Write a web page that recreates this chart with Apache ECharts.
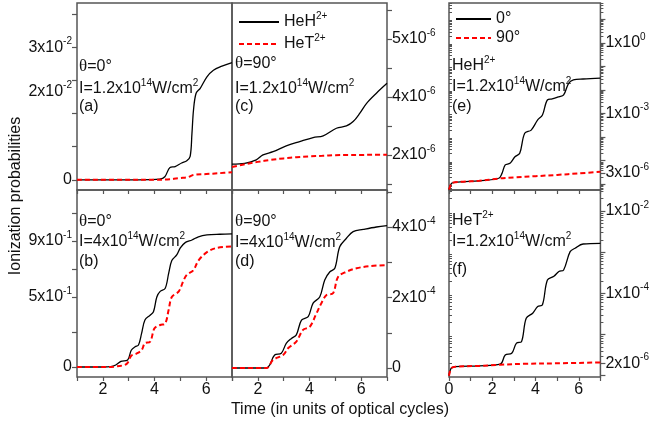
<!DOCTYPE html>
<html>
<head>
<meta charset="utf-8">
<script src="https://cdn.jsdelivr.net/npm/echarts@6/dist/echarts.min.js"></script>
<style>
  html, body { margin: 0; padding: 0; background: #fff; }
  #chart { width: 652px; height: 425px; }
</style>
</head>
<body>
<div id="chart"></div>
<script>
// ---- data (time in optical cycles, ionization probability) ----
// (a) theta=0, I=1.2e14
var tA_H = [1, 2, 3, 3.8, 4.2, 4.4, 4.6, 4.8, 5.05, 5.25, 5.38, 5.45, 5.51, 5.61, 5.77, 6.03, 6.28, 6.61, 7];
var pA_H = [0, 0, 0, 0.00005, 0.00015, 0.0007, 0.0028, 0.0030, 0.0038, 0.0043, 0.0053, 0.0105, 0.0158, 0.0196, 0.0207, 0.0233, 0.0248, 0.0257, 0.0265];
var tA_T = [1, 3, 4, 4.5, 5, 5.3, 5.5, 6, 6.5, 7];
var pA_T = [0, 0, 0, 0.0001, 0.0004, 0.0006, 0.0011, 0.0013, 0.0015, 0.0017];

// (b) theta=0, I=4e14
var tB_H = [1, 2, 2.3, 2.5, 2.7, 2.96, 3.1, 3.25, 3.38, 3.5, 3.63, 3.83, 3.96, 4.09, 4.22, 4.41, 4.55, 4.67, 4.86, 5.0, 5.2, 5.45, 5.7, 6.03, 6.53, 7];
var pB_H = [0, 0, 0.002, 0.014, 0.04, 0.05, 0.12, 0.145, 0.157, 0.24, 0.336, 0.37, 0.395, 0.5, 0.54, 0.56, 0.67, 0.76, 0.8, 0.85, 0.89, 0.907, 0.93, 0.943, 0.948, 0.95];
var tB_T = [1, 2.1, 2.45, 2.83, 2.96, 3.1, 3.3, 3.5, 3.63, 3.83, 4.0, 4.22, 4.41, 4.55, 4.67, 4.94, 5.13, 5.26, 5.5, 5.7, 6.03, 6.4, 7];
var pB_T = [0, 0, 0.003, 0.014, 0.03, 0.08, 0.095, 0.12, 0.17, 0.18, 0.276, 0.3, 0.31, 0.41, 0.5, 0.54, 0.62, 0.66, 0.69, 0.76, 0.82, 0.85, 0.86];

// (c) theta=90, I=1.2e14
var tC_H = [1, 1.49, 1.94, 2.2, 2.59, 3.1, 3.62, 4.14, 4.53, 5.04, 5.43, 5.69, 5.95, 6.21, 6.59, 7];
var pC_H = [1.68e-6, 1.71e-6, 1.83e-6, 2.0e-6, 2.11e-6, 2.31e-6, 2.46e-6, 2.6e-6, 2.66e-6, 2.92e-6, 3.0e-6, 3.15e-6, 3.44e-6, 3.78e-6, 4.13e-6, 4.47e-6];
var tC_T = [1, 1.5, 2, 2.5, 3, 3.5, 4, 4.5, 5, 5.5, 6, 6.5, 7];
var pC_T = [1.58e-6, 1.68e-6, 1.76e-6, 1.83e-6, 1.88e-6, 1.92e-6, 1.95e-6, 1.97e-6, 1.99e-6, 2.0e-6, 2.0e-6, 2.01e-6, 2.01e-6];

// (d) theta=90, I=4e14
var tD_H = [1, 2.33, 2.46, 2.65, 2.91, 3.1, 3.3, 3.49, 3.69, 3.95, 4.14, 4.4, 4.59, 4.79, 4.98, 5.17, 5.43, 5.69, 6.08, 6.59, 7];
var pD_H = [0, 0, 0.085e-4, 0.37e-4, 0.42e-4, 0.7e-4, 0.84e-4, 0.94e-4, 1.36e-4, 1.46e-4, 1.84e-4, 2.02e-4, 2.5e-4, 2.73e-4, 2.83e-4, 3.44e-4, 3.68e-4, 3.87e-4, 3.93e-4, 4.0e-4, 4.04e-4];
var tD_T = [1, 2.33, 2.59, 2.98, 3.17, 3.49, 3.75, 4.01, 4.27, 4.46, 4.66, 4.91, 5.11, 5.43, 5.82, 6.34, 7];
var pD_T = [0, 0, 0.23e-4, 0.37e-4, 0.56e-4, 0.75e-4, 1.08e-4, 1.17e-4, 1.55e-4, 1.84e-4, 2.07e-4, 2.12e-4, 2.59e-4, 2.73e-4, 2.83e-4, 2.89e-4, 2.92e-4];

// (e) HeH2+, 0 and 90 deg, log scale
var tE_0 = [0, 0.05, 0.12, 0.3, 0.65, 1.4, 2.3, 2.45, 2.6, 2.82, 3.05, 3.27, 3.5, 3.8, 4.1, 4.32, 4.55, 4.77, 5.08, 5.3, 5.53, 5.75, 6.2, 7];
var pE_0 = [6e-7, 8e-7, 1.1e-6, 1.22e-6, 1.28e-6, 1.4e-6, 1.8e-6, 2.9e-6, 6.6e-6, 7.8e-6, 1.48e-5, 2.06e-5, 1.46e-4, 2.0e-4, 5.4e-4, 8.7e-4, 3.8e-3, 4.2e-3, 5.2e-3, 6.2e-3, 1.94e-2, 2.7e-2, 2.95e-2, 3.2e-2];
var tE_90 = [0, 0.05, 0.12, 0.3, 0.65, 1.4, 2.3, 3, 4, 5, 6, 7];
var pE_90 = [6e-7, 8e-7, 1.1e-6, 1.22e-6, 1.28e-6, 1.4e-6, 1.75e-6, 1.95e-6, 2.2e-6, 2.5e-6, 2.9e-6, 3.4e-6];

// (f) HeT2+, 0 and 90 deg, log scale
var tF_0 = [0, 0.05, 0.12, 0.3, 1.4, 2.37, 2.6, 2.9, 3.12, 3.35, 3.57, 3.87, 4.1, 4.32, 4.55, 4.85, 5.08, 5.3, 5.6, 5.83, 6.2, 7];
var pF_0 = [1e-6, 1.3e-6, 1.55e-6, 1.66e-6, 1.73e-6, 1.9e-6, 3.2e-6, 3.5e-6, 6.2e-6, 6.7e-6, 2.5e-5, 3.3e-5, 4.8e-5, 5.3e-5, 2.1e-4, 2.6e-4, 3.4e-4, 3.7e-4, 1.03e-3, 1.25e-3, 1.58e-3, 1.64e-3];
var tF_90 = [0, 0.05, 0.12, 0.3, 1.4, 2.37, 3.5, 5, 7];
var pF_90 = [1e-6, 1.3e-6, 1.55e-6, 1.66e-6, 1.73e-6, 1.85e-6, 1.95e-6, 2.0e-6, 2.1e-6];

// ---- tick labels ----
var yLabA = [0, 0.02, 0.03],       yTxtA = ['0', '2x10^{-2}', '3x10^{-2}'];
var yLabB = [0, 0.5, 0.9],         yTxtB = ['0', '5x10^{-1}', '9x10^{-1}'];
var yLabC = [2e-6, 4e-6, 6e-6],    yTxtC = ['2x10^{-6}', '4x10^{-6}', '5x10^{-6}'];
var yLabD = [0, 2e-4, 4e-4],       yTxtD = ['0', '2x10^{-4}', '4x10^{-4}'];
var yLabE = [3e-6, 1e-3, 1],       yTxtE = ['3x10^{-6}', '1x10^{-3}', '1x10^{0}'];
var yLabF = [2e-6, 1e-4, 1e-2],    yTxtF = ['2x10^{-6}', '1x10^{-4}', '1x10^{-2}'];

var yTickA = [0, 0.0075, 0.015, 0.0225, 0.03, 0.0375];
var yTickB = [0, 0.25, 0.5, 0.7, 0.9, 1.1];
var yTickC = [1e-6, 2e-6, 3e-6, 4e-6, 5e-6, 6e-6, 7e-6];
var yTickD = [0, 1e-4, 2e-4, 3e-4, 4e-4, 5e-4];
var yTickE = [1e-6, 3e-6, 1e-5, 1e-4, 1e-3, 1e-2, 1e-1, 1, 10];
var yTickF = [1e-6, 2e-6, 1e-5, 1e-4, 1e-3, 1e-2];

var FONT = '"Liberation Sans", Arial, Helvetica, sans-serif';
var INK = '#111';
var FRAME = '#555';

var RICH = {
    n: { fontSize: 16, fontFamily: FONT, color: INK, fill: INK, lineHeight: 22, verticalAlign: 'middle' },
    s: { fontSize: 10, fontFamily: FONT, color: INK, fill: INK, lineHeight: 10, verticalAlign: 'top' },
    g: { fontSize: 17, fontFamily: '"Liberation Serif", serif', color: INK, fill: INK, lineHeight: 22, verticalAlign: 'middle' }
};

// '2x10^{-2}' -> rich text with superscripts, theta in serif
function rt(s) {
    var out = '{n|' + s.replace(/\^\{([^}]*)\}/g, '}{s|$1}{n|').replace(/θ/g, '}{g|θ}{n|') + '}';
    return out.replace(/\{n\|\}/g, '');
}

function minorLog(lo, hi) {
    var arr = [];
    for (var e = lo; e <= hi; e++) {
        for (var k = 2; k <= 9; k++) arr.push(k * Math.pow(10, e));
    }
    return arr;
}

function zip(t, v) {
    return t.map(function (x, i) { return [x, v[i]]; });
}

var panels = [
    { left: 77,  top: 3,   xmin: 1, xmax: 7, side: 'left',  type: 'value', ymin: -0.0023,  ymax: 0.04,    lab: yLabA, txt: yTxtA, ticks: yTickA, xlab: false,
      black: zip(tA_H, pA_H), red: zip(tA_T, pA_T), names: ['HeH2+', 'HeT2+'] },
    { left: 77,  top: 190, xmin: 1, xmax: 7, side: 'left',  type: 'value', ymin: -0.0714,  ymax: 1.264,   lab: yLabB, txt: yTxtB, ticks: yTickB, xlab: true,
      black: zip(tB_H, pB_H), red: zip(tB_T, pB_T), names: ['HeH2+', 'HeT2+'] },
    { left: 232, top: 3,   xmin: 1, xmax: 7, side: 'right', type: 'value', ymin: 0.79e-6,  ymax: 7.24e-6, lab: yLabC, txt: yTxtC, ticks: yTickC, xlab: false,
      black: zip(tC_H, pC_H), red: zip(tC_T, pC_T), names: ['HeH2+', 'HeT2+'] },
    { left: 232, top: 190, xmin: 1, xmax: 7, side: 'right', type: 'value', ymin: -0.255e-4, ymax: 5.05e-4, lab: yLabD, txt: yTxtD, ticks: yTickD, xlab: true,
      black: zip(tD_H, pD_H), red: zip(tD_T, pD_T), names: ['HeH2+', 'HeT2+'] },
    { left: 449, top: 3,   xmin: 0, xmax: 7, side: 'right', type: 'log',   ymin: 5.7e-7,   ymax: 50,      lab: yLabE, txt: yTxtE, ticks: yTickE, xlab: false,
      minor: minorLog(-7, 1), black: zip(tE_0, pE_0), red: zip(tE_90, pE_90), names: ['0°', '90°'] },
    { left: 449, top: 190, xmin: 0, xmax: 7, side: 'right', type: 'log',   ymin: 9.3e-7,   ymax: 0.0324,  lab: yLabF, txt: yTxtF, ticks: yTickF, xlab: true,
      minor: minorLog(-7, -2), black: zip(tF_0, pF_0), red: zip(tF_90, pF_90), names: ['0°', '90°'] }
];

var grids = [], xAxes = [], yAxes = [], series = [];

panels.forEach(function (p, i) {
    grids.push({ left: p.left, top: p.top, width: 155, height: 187, show: true,
                 borderColor: FRAME, borderWidth: 1.5, backgroundColor: 'transparent' });
    xAxes.push({
        gridIndex: i, type: 'value', min: p.xmin, max: p.xmax, interval: 1,
        axisLine: { show: false, onZero: false },
        axisTick: { length: 4, lineStyle: { color: FRAME, width: 1.2 } },
        axisLabel: { show: p.xlab, margin: 5, fontSize: 16, fontFamily: FONT, color: INK,
                     formatter: function (v) { return v % 2 === 0 ? String(v) : ''; } },
        splitLine: { show: false }
    });
    var yi = yAxes.length;
    yAxes.push({
        gridIndex: i, type: p.type, min: p.ymin, max: p.ymax, position: p.side, logBase: 10,
        axisLine: { show: false, onZero: false },
        axisTick: { customValues: p.ticks, length: 5, lineStyle: { color: FRAME, width: 1.2 } },
        axisLabel: {
            customValues: p.lab, margin: 5, rich: RICH,
            formatter: function (v) {
                var best = 0, bd = Infinity;
                p.lab.forEach(function (c, k) {
                    var d = p.type === 'log' ? Math.abs(Math.log(v / c)) : Math.abs(v - c);
                    if (d < bd) { bd = d; best = k; }
                });
                return rt(p.txt[best]);
            }
        },
        splitLine: { show: false }
    });
    if (p.minor) {
        yAxes.push({
            gridIndex: i, type: 'log', min: p.ymin, max: p.ymax, position: 'right', logBase: 10,
            axisLine: { show: false, onZero: false },
            axisTick: { customValues: p.minor, length: 3, lineStyle: { color: FRAME, width: 1 } },
            axisLabel: { show: false }, splitLine: { show: false }
        });
        yAxes.push({
            gridIndex: i, type: 'log', min: p.ymin, max: p.ymax, position: 'left', logBase: 10,
            axisLine: { show: false, onZero: false },
            axisTick: { inside: true, customValues: p.minor, length: 3, lineStyle: { color: FRAME, width: 1 } },
            axisLabel: { show: false }, splitLine: { show: false }
        });
    }
    series.push({
        type: 'line', name: p.names[0], xAxisIndex: i, yAxisIndex: yi, data: p.black,
        symbol: 'none', smooth: 0.35, lineStyle: { color: '#000', width: 1.3 }, itemStyle: { color: '#000' }, z: 2
    });
    series.push({
        type: 'line', name: p.names[1], xAxisIndex: i, yAxisIndex: yi, data: p.red,
        symbol: 'none', smooth: 0.35, lineStyle: { color: '#ff0000', width: 2, type: [5, 3] }, itemStyle: { color: '#ff0000' }, z: 3
    });
});

var LEG = { 'HeH2+': rt('HeH^{2+}'), 'HeT2+': rt('HeT^{2+}'), '0°': rt('0°'), '90°': rt('90°') };
function legend(left, names, w) {
    return {
        left: left, top: 6, orient: 'vertical', itemWidth: w, itemHeight: 14, itemGap: 3,
        selectedMode: false, data: names,
        itemStyle: { opacity: 0, borderWidth: 0 },
        formatter: function (n) { return LEG[n]; },
        textStyle: { rich: RICH }
    };
}

// annotation text per panel: [x, y, text]
var notes = [
    [79, 67, 'θ=0°'], [79, 89, 'I=1.2x10^{14}W/cm^{2}'], [79, 107, '(a)'],
    [79, 222, 'θ=0°'], [79, 242, 'I=4x10^{14}W/cm^{2}'], [79, 262, '(b)'],
    [235, 64, 'θ=90°'], [235, 89, 'I=1.2x10^{14}W/cm^{2}'], [235, 107, '(c)'],
    [235, 222, 'θ=90°'], [235, 243, 'I=4x10^{14}W/cm^{2}'], [235, 262, '(d)'],
    [452, 66, 'HeH^{2+}'], [452, 87, 'I=1.2x10^{14}W/cm^{2}'], [452, 107, '(e)'],
    [452, 221, 'HeT^{2+}'], [452, 242, 'I=1.2x10^{14}W/cm^{2}'], [452, 270, '(f)']
];

var graphics = notes.map(function (n) {
    return { type: 'text', x: n[0], y: n[1], z: 10,
             style: { text: rt(n[2]), rich: RICH, align: 'left', verticalAlign: 'middle' } };
});
graphics.push({ type: 'text', x: 16, y: 196, rotation: Math.PI / 2,
                style: { text: 'Ionization probabilities', font: '16px ' + FONT, fill: INK, align: 'center', verticalAlign: 'middle' } });
graphics.push({ type: 'text', x: 340, y: 410,
                style: { text: 'Time (in units of optical cycles)', font: '16px ' + FONT, fill: INK, align: 'center', verticalAlign: 'middle' } });

var chart = echarts.init(document.getElementById('chart'), null, { renderer: 'canvas' });
chart.setOption({
    animation: false,
    backgroundColor: '#fff',
    grid: grids,
    xAxis: xAxes,
    yAxis: yAxes,
    legend: [legend(233, ['HeH2+', 'HeT2+'], 40), legend(450, ['0°', '90°'], 35)],
    series: series,
    graphic: graphics
});
</script>
</body>
</html>
